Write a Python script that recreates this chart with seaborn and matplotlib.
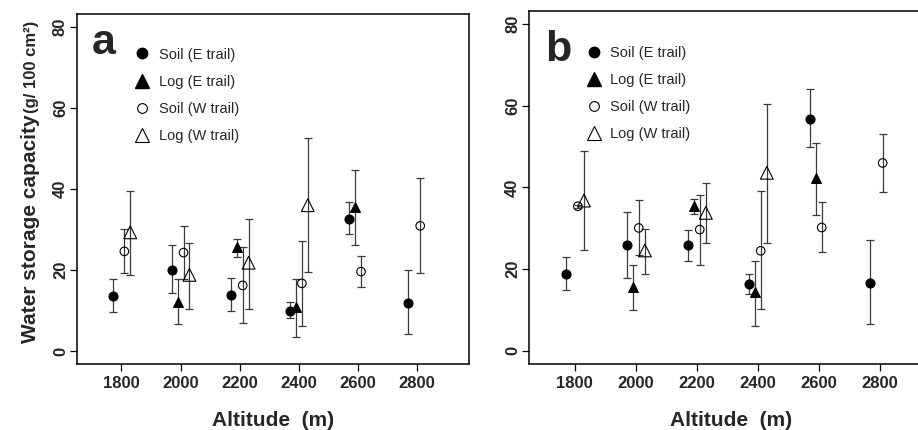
import numpy as np
import pandas as pd
import seaborn as sns
import matplotlib.pyplot as plt
from matplotlib.lines import Line2D

# values (mean, lower and upper whisker)
alt_soil = [1800, 2000, 2200, 2400, 2600, 2800]
alt_log_e = [2000, 2200, 2400, 2600]
alt_log_w = [1800, 2000, 2200, 2400]

# panel a
a_soil_e = [13.6, 20.0, 13.8, 10.0, 32.7, 11.8]
a_soil_e_lo = [9.6, 14.4, 9.9, 8.1, 28.9, 4.1]
a_soil_e_hi = [17.8, 26.1, 18.0, 12.0, 36.7, 20.0]
a_log_e = [12.2, 25.8, 10.8, 35.6]
a_log_e_lo = [6.6, 23.1, 3.5, 26.1]
a_log_e_hi = [17.7, 27.6, 17.9, 44.7]
a_soil_w = [24.6, 24.3, 16.2, 16.7, 19.6, 30.9]
a_soil_w_lo = [19.3, 17.8, 6.8, 6.2, 15.9, 19.3]
a_soil_w_hi = [30.0, 30.8, 25.6, 27.2, 23.4, 42.7]
a_log_w = [29.3, 18.8, 21.8, 36.0]
a_log_w_lo = [18.7, 10.3, 10.4, 19.4]
a_log_w_hi = [39.6, 26.6, 32.6, 52.6]

# panel b
b_soil_e = [18.9, 25.9, 25.9, 16.4, 56.8, 16.6]
b_soil_e_lo = [14.9, 17.9, 22.0, 13.9, 50.0, 6.5]
b_soil_e_hi = [23.0, 34.0, 29.7, 18.9, 64.0, 27.2]
b_log_e = [15.7, 35.4, 14.3, 42.4]
b_log_e_lo = [10.0, 33.6, 6.2, 33.3]
b_log_e_hi = [21.0, 37.2, 22.0, 51.0]
b_soil_w = [35.4, 30.1, 29.7, 24.5, 30.2, 46.0]
b_soil_w_lo = [35.0, 23.4, 21.1, 10.2, 24.2, 38.8]
b_soil_w_hi = [35.8, 37.0, 38.2, 39.2, 36.5, 53.0]
b_log_w = [36.8, 24.6, 33.8, 43.6]
b_log_w_lo = [24.6, 18.8, 26.3, 26.3]
b_log_w_hi = [48.9, 29.8, 41.0, 60.5]

series_names = ["Soil (E trail)", "Log (E trail)", "Soil (W trail)", "Log (W trail)"]

rows = []
def add(panel, name, alts, m, lo, hi):
    for x, v, l, h in zip(alts, m, lo, hi):
        rows.append(dict(panel=panel, series=name, alt=x, mean=v, lo=l, hi=h))

add("a", series_names[0], alt_soil, a_soil_e, a_soil_e_lo, a_soil_e_hi)
add("a", series_names[1], alt_log_e, a_log_e, a_log_e_lo, a_log_e_hi)
add("a", series_names[2], alt_soil, a_soil_w, a_soil_w_lo, a_soil_w_hi)
add("a", series_names[3], alt_log_w, a_log_w, a_log_w_lo, a_log_w_hi)
add("b", series_names[0], alt_soil, b_soil_e, b_soil_e_lo, b_soil_e_hi)
add("b", series_names[1], alt_log_e, b_log_e, b_log_e_lo, b_log_e_hi)
add("b", series_names[2], alt_soil, b_soil_w, b_soil_w_lo, b_soil_w_hi)
add("b", series_names[3], alt_log_w, b_log_w, b_log_w_lo, b_log_w_hi)
df = pd.DataFrame(rows)

# dodge, marker, fill and size for each series
style = {
    "Soil (E trail)": dict(dx=-30, marker="o", fc="black", s=42),
    "Log (E trail)": dict(dx=-10, marker="^", fc="black", s=50),
    "Soil (W trail)": dict(dx=10, marker="o", fc="none", s=38),
    "Log (W trail)": dict(dx=30, marker="^", fc="none", s=85),
}

sns.set_style("ticks")
plt.rcParams["font.family"] = ["Liberation Sans", "DejaVu Sans"]

fig = plt.figure(figsize=(9.18, 4.30), dpi=100)
ax_a = fig.add_axes([0.0839, 0.1535, 0.427, 0.814])
ax_b = fig.add_axes([0.5763, 0.1535, 0.440, 0.821])

for ax, panel in [(ax_a, "a"), (ax_b, "b")]:
    d = df[df["panel"] == panel]
    for name in series_names:
        sub = d[d["series"] == name].copy()
        st = style[name]
        sub["x"] = sub["alt"] + st["dx"]
        ax.errorbar(sub["x"], sub["mean"],
                    yerr=[sub["mean"] - sub["lo"], sub["hi"] - sub["mean"]],
                    fmt="none", ecolor="#3a3a3a", elinewidth=0.9,
                    capsize=2.6, capthick=0.9, zorder=2)
        sns.scatterplot(data=sub, x="x", y="mean", ax=ax, marker=st["marker"],
                        s=st["s"], facecolor=st["fc"], edgecolor="black",
                        linewidth=0.8, zorder=3)

    ax.set_xlim(1650, 2975)
    ax.set_ylim(-3.2, 83.2)
    ax.set_xticks([1800, 2000, 2200, 2400, 2600, 2800])
    ax.set_yticks([0, 20, 40, 60, 80])
    for sp in ax.spines.values():
        sp.set_visible(True)
        sp.set_linewidth(1.1)
        sp.set_color("black")
    ax.tick_params(axis="both", direction="out", length=5, width=0.9,
                   labelsize=12, pad=4, color="black")
    ax.tick_params(axis="y", labelrotation=90, pad=1.5)
    for lab in ax.get_yticklabels():
        lab.set_va("center")
        lab.set_fontweight("bold")
    for lab in ax.get_xticklabels():
        lab.set_fontweight("bold")
    ax.set_xlabel("Altitude  (m)", fontsize=15, fontweight="bold", labelpad=14)
    ax.set_ylabel("")

    handles = [
        Line2D([], [], ls="none", marker="o", ms=7.5, mfc="black", mec="black"),
        Line2D([], [], ls="none", marker="^", ms=9.5, mfc="black", mec="black"),
        Line2D([], [], ls="none", marker="o", ms=7, mfc="none", mec="black", mew=0.8),
        Line2D([], [], ls="none", marker="^", ms=10, mfc="none", mec="black", mew=0.8),
    ]
    ax.legend(handles, series_names, loc="upper left", frameon=False,
              bbox_to_anchor=(0.125, 0.925) if panel == "a" else (0.12, 0.922),
              prop=dict(size=10.5), labelspacing=0.9, handletextpad=0.55,
              borderpad=0, handlelength=1.2)

ax_a.text(0.038, 0.886, "a", transform=ax_a.transAxes, fontsize=31,
          fontweight="bold")
ax_b.text(0.040, 0.858, "b", transform=ax_b.transAxes, fontsize=31,
          fontweight="bold")

# y label: main part plus smaller unit part above it
fig.text(0.033, 0.733, "Water storage capacity", rotation=90, fontsize=15,
         fontweight="bold", ha="center", va="top")
fig.text(0.034, 0.738, "(g/ 100 cm\u00b2)", rotation=90, fontsize=12,
         fontweight="bold", ha="center", va="bottom")

fig.savefig("out.png", dpi=100)
